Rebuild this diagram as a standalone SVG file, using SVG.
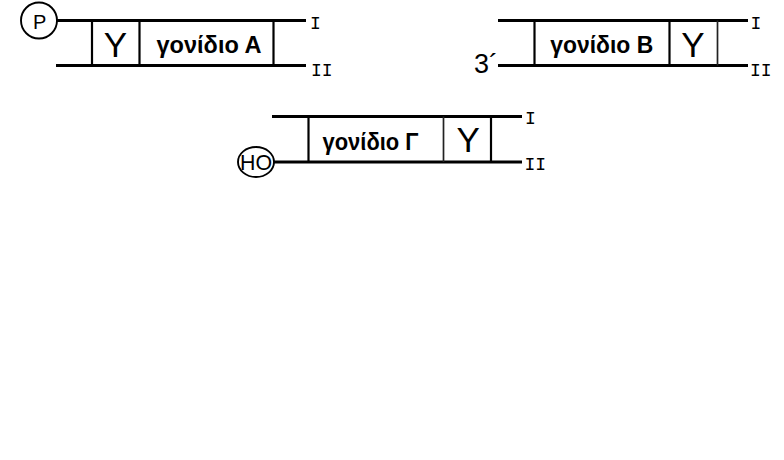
<svg xmlns="http://www.w3.org/2000/svg" width="784" height="460" viewBox="0 0 784 460">
<style>
.strand{stroke:#000;stroke-width:2.8;fill:none}
.wall{stroke:#000;stroke-width:2.2;fill:none}
.wall2{stroke:#222;stroke-width:1.7;fill:none}
.ring{stroke:#000;stroke-width:1.9;fill:#fff}
.gene{font-family:"Liberation Sans",Arial,sans-serif;font-weight:bold;font-size:23px;text-anchor:middle;fill:#000}
.y{font-family:"Liberation Sans",Arial,sans-serif;font-size:35px;text-anchor:middle;fill:#000}
.lab{font-family:"Liberation Sans",Arial,sans-serif;text-anchor:middle;fill:#000}
.roman{font-family:"Liberation Mono","Courier New",monospace;font-size:18px;fill:#000}
</style>
<rect width="784" height="460" fill="#fff"/>
<g id="connectors">
  <line class="strand" x1="57" y1="20.5" x2="306" y2="20.5"/>
  <line class="strand" x1="56" y1="65.5" x2="306" y2="65.5"/>
  <line class="strand" x1="498" y1="20.5" x2="748" y2="20.5"/>
  <line class="strand" x1="498" y1="65.5" x2="748" y2="65.5"/>
  <line class="strand" x1="272" y1="116.5" x2="522" y2="116.5"/>
  <line class="strand" x1="274" y1="162" x2="522" y2="162"/>
</g>
<g id="geneA">
  <line class="wall" x1="92" y1="20.5" x2="92" y2="65.5"/>
  <line class="wall" x1="139.5" y1="20.5" x2="139.5" y2="65.5"/>
  <line class="wall" x1="273.5" y1="20.5" x2="273.5" y2="65.5"/>
  <text class="y" x="115.5" y="57">Y</text>
  <text class="gene" x="209" y="53.3" textLength="105" lengthAdjust="spacingAndGlyphs">γονίδιο Α</text>
</g>
<g id="geneB">
  <line class="wall" x1="534.5" y1="20.5" x2="534.5" y2="65.5"/>
  <line class="wall" x1="669.5" y1="20.5" x2="669.5" y2="65.5"/>
  <line class="wall2" x1="717.5" y1="20.5" x2="717.5" y2="65.5"/>
  <text class="gene" x="601.7" y="52.7" textLength="103" lengthAdjust="spacingAndGlyphs">γονίδιο Β</text>
  <text class="y" x="693" y="57">Y</text>
</g>
<g id="geneG">
  <line class="wall" x1="308.5" y1="116.5" x2="308.5" y2="162"/>
  <line class="wall2" x1="443.5" y1="116.5" x2="443.5" y2="162"/>
  <line class="wall" x1="491" y1="116.5" x2="491" y2="162"/>
  <text class="gene" x="370.5" y="150" textLength="96" lengthAdjust="spacingAndGlyphs">γονίδιο Γ</text>
  <text class="y" x="468.3" y="152">Y</text>
</g>
<g id="nodeP">
  <circle class="ring" cx="39" cy="20.5" r="18"/>
  <text class="lab" x="39.7" y="29" font-size="20">P</text>
</g>
<g id="nodeHO">
  <ellipse class="ring" cx="256" cy="162" rx="18" ry="15"/>
  <text class="lab" x="256" y="170" font-size="22" textLength="32" lengthAdjust="spacingAndGlyphs">HO</text>
</g>
<g id="label3">
  <text x="474" y="73" font-family="'Liberation Sans',Arial,sans-serif" font-size="27" fill="#000">3´</text>
</g>
<g id="strandLabels">
  <text class="roman" x="310" y="28.5">I</text>
  <text class="roman" x="311" y="75.5">II</text>
  <text class="roman" x="750.5" y="28.5">I</text>
  <text class="roman" x="750" y="75.5">II</text>
  <text class="roman" x="525" y="123.5">I</text>
  <text class="roman" x="524.5" y="170">II</text>
</g>
</svg>
